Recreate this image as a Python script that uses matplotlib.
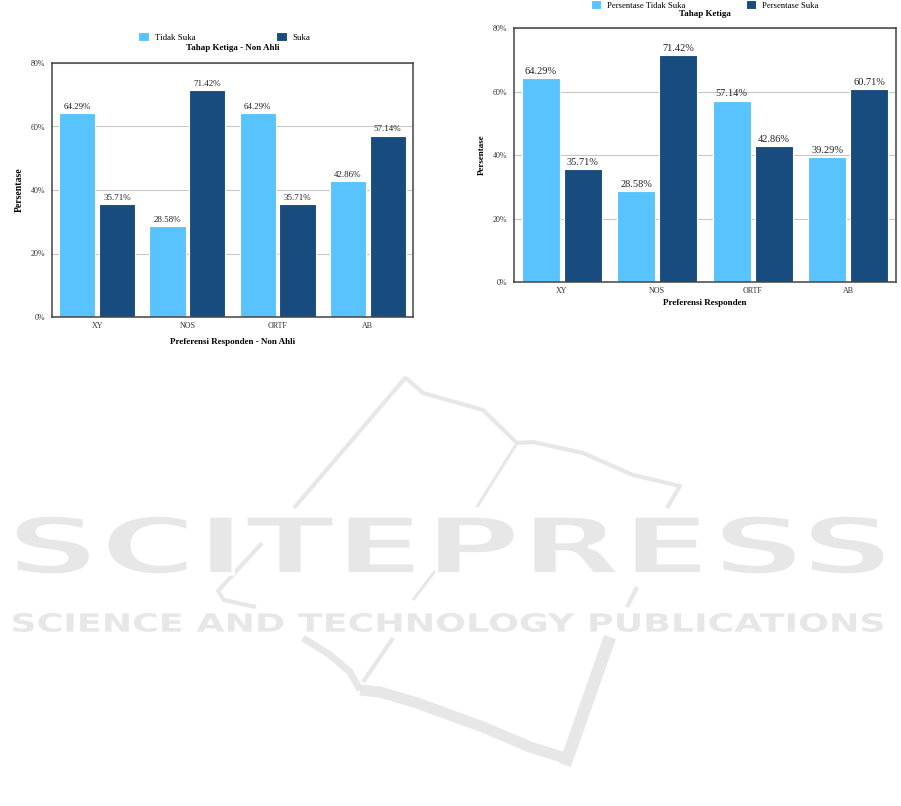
import numpy as np
import matplotlib
matplotlib.use('Agg')
import matplotlib.pyplot as plt
from matplotlib.textpath import TextPath
from matplotlib.patches import PathPatch
from matplotlib.font_manager import FontProperties
import matplotlib.transforms as mtransforms

# data
categories = ['XY', 'NOS', 'ORTF', 'AB']
non_ahli_tidak_suka = [64.29, 28.58, 64.29, 42.86]
non_ahli_suka = [35.71, 71.42, 35.71, 57.14]
ketiga_tidak_suka = [64.29, 28.58, 57.14, 39.29]
ketiga_suka = [35.71, 71.42, 42.86, 60.71]
y_ticks = [0, 20, 40, 60, 80]

light_blue = '#59C3FF'
dark_blue = '#184B7E'
wm_color = '#E6E7E6'

plt.rcParams['font.family'] = ['Liberation Serif', 'DejaVu Serif']

W, H = 901, 806
fig = plt.figure(figsize=(W / 100, H / 100), dpi=100)

# background axes in pixel coordinates for the watermark
bg = fig.add_axes([0, 0, 1, 1], zorder=0)
bg.set_xlim(0, W)
bg.set_ylim(H, 0)
bg.axis('off')

# logo strokes (decoration only)
logo_strokes = [
    ([406, 294], [377, 508], 3),
    ([262, 218, 224, 256], [543, 591, 600, 607], 3),
    ([406, 423, 483, 517, 533, 583, 633, 680, 667], [378, 393, 410, 443, 442, 453, 475, 486, 508], 3),
    ([517, 477], [443, 507], 2.2),
    ([442, 413], [562, 600], 2.2),
    ([637, 627], [587, 607], 3),
    ([303, 330, 350, 360], [638, 655, 672, 690], 5),
    ([393, 363], [638, 682], 3),
    ([360, 380, 417, 483, 530, 562], [690, 692, 703, 727, 747, 757], 8),
    ([610, 565], [637, 765], 9),
]
for xs, ys, lw in logo_strokes:
    bg.plot(xs, ys, color=wm_color, lw=lw, solid_capstyle='butt', zorder=1)


def fit_text(ax, s, x0, x1, y0, y1, weight, gap):
    tp = TextPath((0, 0), s, size=100,
                  prop=FontProperties(family='DejaVu Sans', weight=weight))
    ext = tp.get_extents()
    sx = (x1 - x0) / ext.width
    sy = (y1 - y0) / ext.height
    tr = (mtransforms.Affine2D().translate(-ext.x0, -ext.y0)
          .scale(sx, -sy).translate(x0, y1))
    ax.add_patch(PathPatch(tr.transform_path(tp), fc=wm_color, ec='white',
                           lw=gap, zorder=2))


fit_text(bg, 'SCITEPRESS', 15, 885, 515, 575, 'bold', 2.5)
fit_text(bg, 'SCIENCE AND TECHNOLOGY PUBLICATIONS', 13, 883, 613, 632, 'bold', 0)


def draw_panel(rect, tidak, suka, names, title, xlabel, leg_pos, title_y,
               leg_font, colsp, val_font, ylab_font, xpad):
    ax = fig.add_axes(rect, zorder=3)
    x = np.arange(len(categories))
    b1 = ax.bar(x - 0.22, tidak, 0.40, color=light_blue, edgecolor='white',
                linewidth=0.8, label=names[0], zorder=2)
    b2 = ax.bar(x + 0.22, suka, 0.40, color=dark_blue, edgecolor='white',
                linewidth=0.8, label=names[1], zorder=2)
    for bars in (b1, b2):
        for r in bars:
            ax.annotate(f'{r.get_height():.2f}%',
                        (r.get_x() + r.get_width() / 2, r.get_height()),
                        xytext=(0, 1.5), textcoords='offset points',
                        ha='center', va='bottom', fontsize=val_font,
                        color='#222222')
    ax.set_xlim(-0.5, len(categories) - 0.5)
    ax.set_ylim(0, 80)
    ax.set_yticks(y_ticks)
    ax.set_yticklabels([f'{v}%' for v in y_ticks])
    ax.set_xticks(x)
    ax.set_xticklabels(categories)
    ax.tick_params(length=0, labelsize=5.8, colors='#333333')
    ax.tick_params(axis='y', pad=5)
    ax.tick_params(axis='x', pad=3.5)
    ax.grid(axis='y', color='#C8C8C8', lw=0.8, zorder=0)
    for sp in ax.spines.values():
        sp.set_color('#444444')
        sp.set_linewidth(1.1)
    ax.set_xlabel(xlabel, fontsize=6.5, fontweight='bold', labelpad=xpad)
    ax.set_ylabel('Persentase', fontsize=ylab_font, fontweight='bold', labelpad=5)
    ax.text(0.5, title_y, title, transform=ax.transAxes, ha='center',
            va='center', fontsize=6.5, fontweight='bold')
    ax.legend(handles=[b1, b2], loc='center', bbox_to_anchor=leg_pos, ncol=2,
              frameon=False, fontsize=leg_font, handlelength=1.2,
              handleheight=1.2, handletextpad=0.7, columnspacing=colsp,
              borderpad=0)
    return ax


draw_panel([52 / W, 1 - 317 / H, 361 / W, 254 / H],
           non_ahli_tidak_suka, non_ahli_suka, ['Tidak Suka', 'Suka'],
           'Tahap Ketiga - Non Ahli', 'Preferensi Responden - Non Ahli',
           (0.478, 1.102), 1.059, 6.4, 9.0, 6.5, 7.0, 6)

draw_panel([514 / W, 1 - 282 / H, 382 / W, 254 / H],
           ketiga_tidak_suka, ketiga_suka,
           ['Persentase Tidak Suka', 'Persentase Suka'],
           'Tahap Ketiga', 'Preferensi Responden',
           (0.499, 1.091), 1.055, 6.2, 7.0, 7.5, 6.5, 3)

fig.savefig('out.png', dpi=100)
